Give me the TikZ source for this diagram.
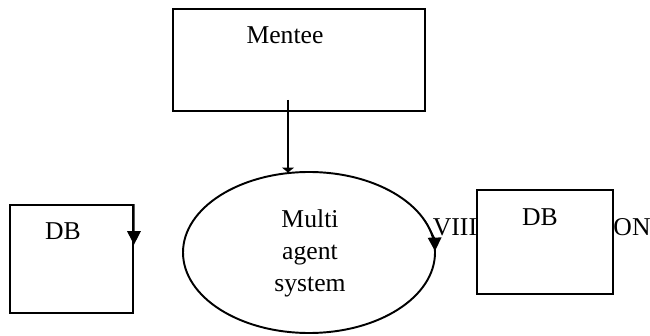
\documentclass[tikz,border=0pt]{standalone}
\usepackage{fontspec}
\setmainfont{Liberation Serif}
\usepackage{tikz}
\usetikzlibrary{arrows.meta, positioning, calc, shapes.geometric}

\begin{document}
\begin{tikzpicture}[
    >={Triangle[length=2.7mm, width=2.7mm]},
    box/.style={rectangle, draw, line width=1.1pt, inner sep=0pt},
    agent/.style={ellipse, draw, line width=1.1pt, inner sep=0pt,
                  minimum width=5.04cm, minimum height=3.22cm},
    txt/.style={font=\fontsize{14.6}{18.2}\selectfont, inner sep=0pt},
    conn/.style={black, line width=0.8pt}
]

% -------- Frame --------
\useasboundingbox (0,0) rectangle (13,6.7);

% -------- Boxes --------
\node[box, minimum width=5.04cm, minimum height=2.04cm] (mentee) at (5.98,5.5) {};
\node[box, minimum width=2.46cm, minimum height=2.16cm] (dbleft) at (1.43,1.52) {};
\node[box, minimum width=2.72cm, minimum height=2.08cm] (dbright) at (10.9,1.86) {};
\node[agent] (mas) at (6.18,1.65) {};

% -------- Texts --------
\node[txt] (mentee-t) at (5.7,6.0) {Mentee};
\node[txt] (dbleft-t) at (1.26,2.08) {DB};
\node[txt] (dbright-t) at (10.8,2.36) {DB};
\node[txt, align=center] (mas-t) at (6.2,1.64) {Multi\\agent\\system};
\node[txt] (viii) at (9.1,2.16) {VIII};
\node[txt] (on) at (12.64,2.16) {ON};

% -------- Connectors --------
\coordinate (src) at (5.76,4.7);
\draw[conn, ->, >={Triangle[length=1mm, width=2.4mm]}] (src) -- ($(src |- mas.north)+(0,-0.03)$);

\draw[conn, ->] (dbleft.north east) -- ($(dbleft.north east)!0.37!(dbleft.south east)$);

\draw[conn, ->] (mas.center) ++(24:2.52 and 1.61)
    arc[start angle=24, end angle=1, x radius=2.52cm, y radius=1.61cm];

\end{tikzpicture}
\end{document}
